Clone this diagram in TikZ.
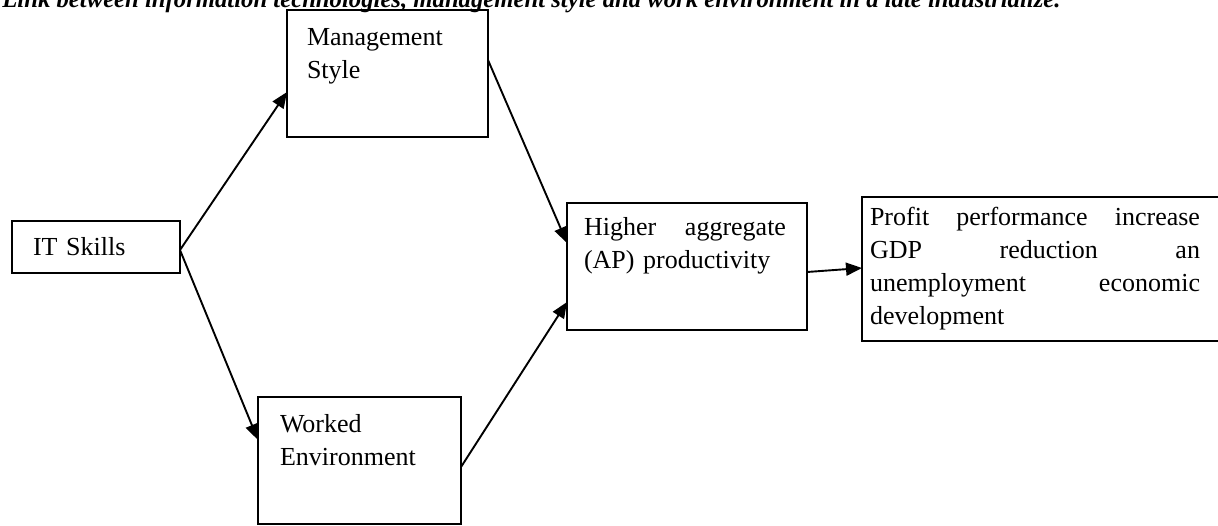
\documentclass[tikz,border=0pt]{standalone}
\usepackage{fontspec}
\setmainfont{Liberation Serif}
\usetikzlibrary{arrows.meta}
\begin{document}
\begin{tikzpicture}[x=0.5pt,y=-0.5pt,
  box/.style={draw, line width=0.95pt, outer sep=0pt, inner ysep=0pt, align=left,
    font=\fontsize{13}{16.5}\selectfont},
  conn/.style={line width=0.95pt, -{Triangle[length=8pt,width=6.5pt]}}]
\useasboundingbox (0,0) rectangle (1218,525);
\clip (0,0) rectangle (1218,525);
\node[anchor=base west, inner sep=0pt, font=\fontsize{12.35}{15}\selectfont\bfseries\itshape] (title) at (2,7)
  {Link between information technologies, management style and work environment in a late industrialize.};
\node[box, anchor=north west, inner xsep=10.5pt, text width=63pt, text height=17pt, text depth=9pt] (it) at (12,221) {IT Skills};
\node[box, anchor=north west, inner xsep=10pt, text width=80.5pt, text height=17.5pt, text depth=46pt] (mg) at (287,10) {Management\\Style};
\node[box, anchor=north west, inner xsep=11pt, text width=79.5pt, text height=17.5pt, text depth=46pt] (we) at (258,397) {Worked\\Environment};
\node[box, anchor=north west, inner xsep=8.5pt, text width=103pt, text height=16pt, text depth=47.5pt] (hi) at (567,203)
  {\makebox[101pt]{Higher\hfill aggregate}\\(AP) productivity};
\node[box, anchor=north west, inner xsep=4pt, text width=173.5pt, text height=14pt, text depth=58pt] (pr) at (862,197)
  {\makebox[165pt]{Profit\hfill performance\hfill increase}\\\makebox[165pt]{GDP\hfill reduction\hfill an}\\\makebox[165pt]{unemployment\hfill economic}\\development};
\draw[conn] ([yshift=-1.5pt]it.east) -- ([yshift=-41pt]mg.north west);
\draw[conn] ([yshift=-1.5pt]it.east) -- ([yshift=-21.5pt]we.north west);
\draw[conn] ([yshift=-25pt]mg.north east) -- ([yshift=-20pt]hi.north west);
\draw[conn] ([yshift=-35pt]we.north east) -- ([yshift=-49.5pt]hi.north west);
\draw[conn] ([yshift=-34.5pt]hi.north east) -- ([yshift=-35.5pt]pr.north west);
\end{tikzpicture}
\end{document}
